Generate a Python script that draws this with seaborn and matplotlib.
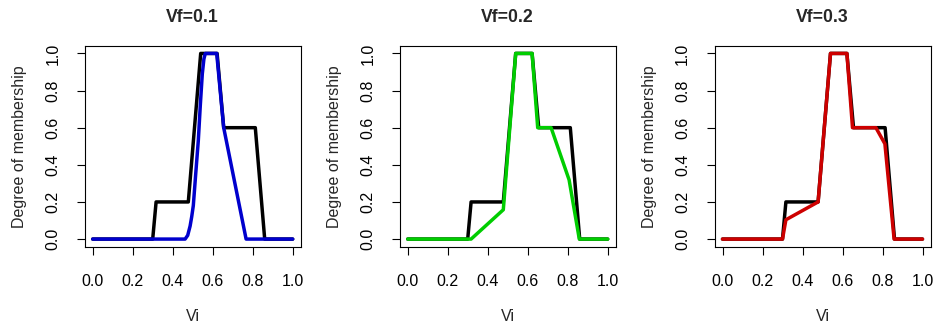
import numpy as np
import pandas as pd
import matplotlib
matplotlib.use("Agg")
import matplotlib.pyplot as plt
import seaborn as sns

# ---- data ----
titles = ["Vf=0.1", "Vf=0.2", "Vf=0.3"]
line_colors = ["#0000CD", "#00CD00", "#CD0000"]

base_x = [0.0, 0.300, 0.317, 0.478, 0.540, 0.622, 0.655, 0.813, 0.860, 1.0]
base_y = [0.0, 0.0, 0.2, 0.2, 1.0, 1.0, 0.6, 0.6, 0.0, 0.0]

vf1_x = [0.0, 0.462, 0.475, 0.487, 0.495, 0.503, 0.515, 0.528, 0.538, 0.548,
         0.556, 0.563, 0.620, 0.655, 0.767, 1.0]
vf1_y = [0.0, 0.0, 0.02, 0.07, 0.12, 0.18, 0.35, 0.53, 0.72, 0.89,
         0.97, 1.0, 1.0, 0.6, 0.0, 0.0]

vf2_x = [0.0, 0.317, 0.478, 0.540, 0.622, 0.650, 0.717, 0.807, 0.858, 1.0]
vf2_y = [0.0, 0.0, 0.158, 1.0, 1.0, 0.6, 0.6, 0.319, 0.0, 0.0]

vf3_x = [0.0, 0.300, 0.317, 0.478, 0.540, 0.622, 0.650, 0.767, 0.812, 0.858, 1.0]
vf3_y = [0.0, 0.0, 0.104, 0.2, 1.0, 1.0, 0.6, 0.6, 0.513, 0.0, 0.0]

series_x = [vf1_x, vf2_x, vf3_x]
series_y = [vf1_y, vf2_y, vf3_y]

ticks = [0.0, 0.2, 0.4, 0.6, 0.8, 1.0]
tick_labels = ["0.0", "0.2", "0.4", "0.6", "0.8", "1.0"]

# ---- style ----
sns.set_theme(style="ticks")
plt.rcParams["font.family"] = ["Liberation Sans", "DejaVu Sans"]

W, H = 934, 329
fig = plt.figure(figsize=(W / 100, H / 100), dpi=100)
fig.patch.set_facecolor("white")

lefts = [84.7, 399.7, 714.5]
box_w = 216.0
box_top, box_bot = 46.0, 246.5
box_h = box_bot - box_top

for i in range(3):
    ax = fig.add_axes([lefts[i] / W, 1 - box_bot / H, box_w / W, box_h / H])
    ax.set_facecolor("white")
    df_base = pd.DataFrame({"Vi": base_x, "mu": base_y})
    df_s = pd.DataFrame({"Vi": series_x[i], "mu": series_y[i]})
    sns.lineplot(data=df_base, x="Vi", y="mu", ax=ax, color="black", lw=2.5,
                 sort=False, estimator=None, solid_capstyle="round",
                 solid_joinstyle="round")
    sns.lineplot(data=df_s, x="Vi", y="mu", ax=ax, color=line_colors[i], lw=2.5,
                 sort=False, estimator=None, solid_capstyle="round",
                 solid_joinstyle="round")
    ax.set_xlim(-0.04, 1.04)
    ax.set_ylim(-0.04, 1.04)
    ax.set_xticks(ticks)
    ax.set_xticklabels(tick_labels)
    ax.set_yticks(ticks)
    ax.set_yticklabels(tick_labels, rotation=90, va="center")
    for sp in ax.spines.values():
        sp.set_visible(True)
        sp.set_color("black")
        sp.set_linewidth(0.8)
    ax.tick_params(axis="both", direction="out", length=6, width=0.8,
                   colors="black", labelsize=11.5)
    ax.tick_params(axis="x", pad=13.5)
    ax.tick_params(axis="y", pad=11.5)
    ax.grid(False)

    ax.set_xlabel("Vi", fontsize=11.5)
    ax.set_ylabel("Degree of membership", fontsize=11.5)
    ax.xaxis.label.set_va("center")
    ax.yaxis.label.set_va("center")
    ax.xaxis.set_label_coords(0.5, (box_bot - 316.5) / box_h)
    ax.yaxis.set_label_coords((20.0 - 84.7) / box_w, 0.5)
    ax.set_title(titles[i], fontsize=12.7, fontweight="bold", pad=0,
                 y=(box_bot - 17.0) / box_h, va="center")

fig.savefig("out.png", dpi=100, facecolor="white")
